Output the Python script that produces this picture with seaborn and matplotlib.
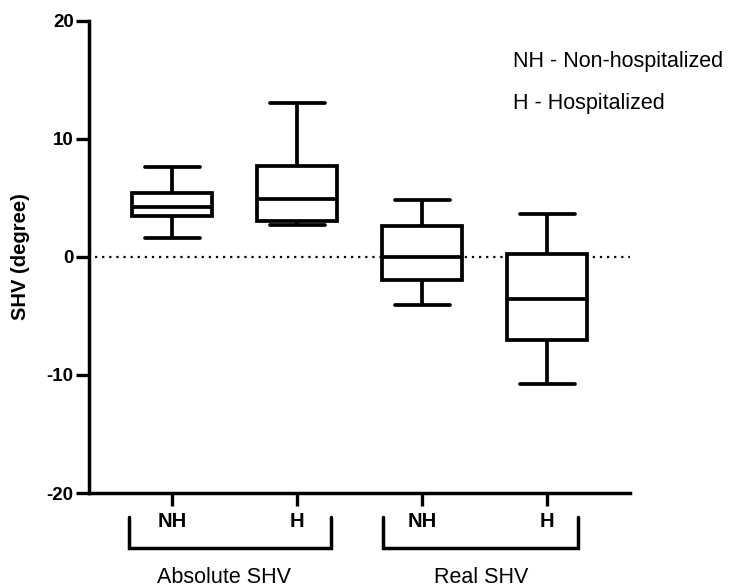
import numpy as np
import pandas as pd
import seaborn as sns
import matplotlib.pyplot as plt
from matplotlib.transforms import blended_transform_factory

# ---- data ----
categories = ["NH", "H", "NH", "H"]
groups = ["Absolute SHV", "Real SHV"]
box_min = [1.63, 2.70, -4.12, -10.77]
box_q1 = [3.47, 3.05, -1.95, -7.08]
box_median = [4.20, 4.91, -0.03, -3.55]
box_q3 = [5.44, 7.73, 2.62, 0.23]
box_max = [7.64, 13.06, 4.82, 3.61]
y_ticks = [-20, -10, 0, 10, 20]
legend_lines = ["NH - Non-hospitalized", "H - Hospitalized"]
y_label = "SHV (degree)"

# five-number summaries -> samples whose quartiles equal them (linear percentiles)
box_ids = [f"b{i}" for i in range(len(categories))]
rows = []
for bid, mn, q1, md, q3, mx in zip(box_ids, box_min, box_q1, box_median, box_q3, box_max):
    for v in (mn, q1, md, q3, mx):
        rows.append({"box": bid, "value": v})
df = pd.DataFrame(rows)

sns.set_style("ticks")
plt.rcParams["font.family"] = ["Liberation Sans", "DejaVu Sans"]
plt.rcParams["text.color"] = "black"
plt.rcParams["axes.labelcolor"] = "black"
plt.rcParams["xtick.color"] = "black"
plt.rcParams["ytick.color"] = "black"

fig = plt.figure(figsize=(7.35, 5.87), dpi=100)
W, H = 735, 587
ax_left, ax_right, ax_top, ax_bottom = 89, 630, 20.7, 493
ax = fig.add_axes([ax_left / W, 1 - ax_bottom / H,
                   (ax_right - ax_left) / W, (ax_bottom - ax_top) / H])

lw = 2.7
sns.boxplot(data=df, x="box", y="value", order=box_ids, whis=(0, 100),
            width=0.64, color="white", linecolor="black", linewidth=lw,
            showfliers=False, capwidths=0.44, ax=ax, zorder=3)

ax.axhline(0, xmin=0.011, xmax=1.0, color="black", lw=1.6,
           linestyle=(0, (1, 2.2)), zorder=2)

ax.set_xlim(-0.664, 3.664)
ax.set_ylim(-20, 20)
ax.set_yticks(y_ticks)
ax.set_yticklabels([str(t) for t in y_ticks], fontsize=13.5, fontweight="bold")
ax.set_xticks(range(len(categories)))
ax.set_xticklabels(categories, fontsize=14.5, fontweight="bold")
ax.tick_params(axis="y", length=9.5, width=2.4, pad=1.5, color="black")
ax.tick_params(axis="x", length=9, width=2.4, pad=4.5, color="black")
ax.set_xlabel("")
ax.set_ylabel(y_label, fontsize=14.5, fontweight="bold", labelpad=12)

for s in ("top", "right"):
    ax.spines[s].set_visible(False)
for s in ("left", "bottom"):
    ax.spines[s].set_linewidth(2.5)
    ax.spines[s].set_color("black")

# group brackets below the axis
trans = blended_transform_factory(ax.transData, ax.transAxes)
y_top = -0.0508
y_bot = -0.1165
brackets = [(-0.344, 1.272), (1.688, 3.248)]
label_x = [0.416, 2.472]
for (x0, x1), gx, name in zip(brackets, label_x, groups):
    ax.plot([x0, x0, x1, x1], [y_top, y_bot, y_bot, y_top], transform=trans,
            color="black", lw=2.5, clip_on=False, solid_joinstyle="miter")
    ax.text(gx, -0.178, name, transform=trans, ha="center", va="center",
            fontsize=15.5, color="black")

# annotation text (top right)
fig.text(513 / W, 1 - 62 / H, legend_lines[0], ha="left", va="center",
         fontsize=15.5, color="black")
fig.text(513 / W, 1 - 103 / H, legend_lines[1], ha="left", va="center",
         fontsize=15.5, color="black")

fig.savefig("out.png", dpi=100)
